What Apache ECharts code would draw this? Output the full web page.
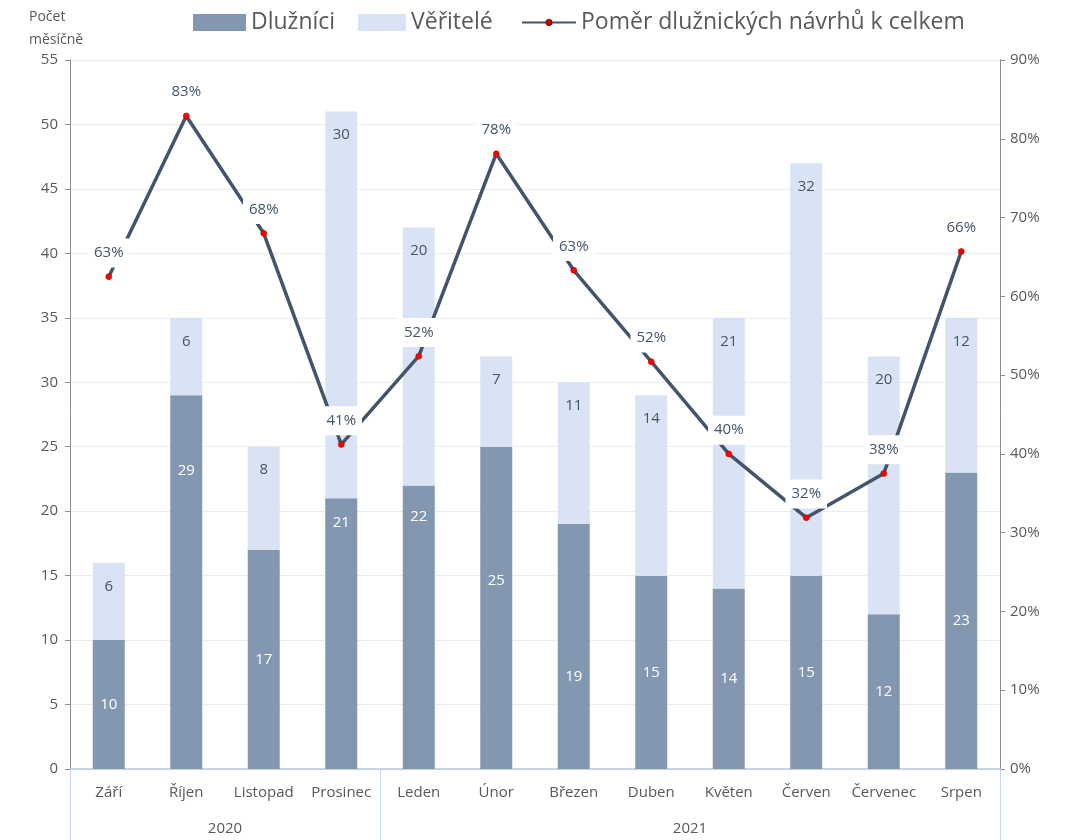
<!DOCTYPE html>
<html>
<head>
<meta charset="utf-8">
<script src="https://cdn.jsdelivr.net/npm/echarts@6/dist/echarts.min.js"></script>
<style>
  html, body { margin: 0; padding: 0; background: #fff; }
  #chart { width: 1066px; height: 840px; }
</style>
</head>
<body>
<div id="chart"></div>
<script>
let months = ['Září', 'Říjen', 'Listopad', 'Prosinec', 'Leden', 'Únor', 'Březen', 'Duben', 'Květen', 'Červen', 'Červenec', 'Srpen'];
let years = ['2020', '2021'];
let yearSpans = [4, 8];
let dluznici = [10, 29, 17, 21, 22, 25, 19, 15, 14, 15, 12, 23];
let veritele = [6, 6, 8, 30, 20, 7, 11, 14, 21, 32, 20, 12];
let pomer = [62.5, 82.9, 68, 41.2, 52.4, 78.1, 63.3, 51.7, 40, 31.9, 37.5, 65.7];

let textGrey = '#595959';
let font = 'Open Sans';

// ručně posunuté popisky dlužníků (px, záporně = nahoru)
let dluzniciLabelShift = { 1: -111, 3: -111, 4: -110, 5: -27, 6: 30 };

// hranice a středy let pro druhou řadu popisků
let yearEdges = [0];
let yearMids = [];
yearSpans.forEach(function (s, i) {
  yearMids.push(yearEdges[i] + s / 2);
  yearEdges.push(yearEdges[i] + s);
});

let legendText = { fontSize: 23, color: textGrey, fontFamily: font };

let myChart = echarts.init(document.getElementById('chart'));
myChart.setOption({
  animation: false,
  textStyle: { fontFamily: font },
  legend: [{
    top: 6, left: 188, itemWidth: 53, itemHeight: 17, icon: 'rect',
    textStyle: legendText, data: ['Dlužníci']
  }, {
    top: 6, left: 353, itemWidth: 48, itemHeight: 17, icon: 'rect',
    textStyle: legendText, data: ['Věřitelé']
  }, {
    top: 6, left: 516, itemWidth: 54, itemHeight: 6, itemGap: 4,
    textStyle: legendText, data: ['Poměr dlužnických návrhů k celkem']
  }],
  title: {
    text: 'Počet\nměsíčně',
    left: 24,
    top: 1,
    textStyle: { fontSize: 14, color: textGrey, fontWeight: 'normal', lineHeight: 23, fontFamily: font }
  },
  grid: { left: 70, right: 66, top: 60, bottom: 71 },
  xAxis: [{
    type: 'category',
    data: months,
    axisLine: { lineStyle: { color: '#b4c7e7', width: 1.5 } },
    axisTick: { length: 37, interval: 0, lineStyle: { color: '#c9d7ee' } },
    axisLabel: { fontSize: 15, color: textGrey, margin: 16, interval: 0 }
  }, {
    type: 'value',
    position: 'bottom',
    min: 0,
    max: months.length,
    axisLine: { show: false },
    splitLine: { show: false },
    axisTick: { show: true, length: 72, customValues: yearEdges, lineStyle: { color: '#c9d7ee' } },
    axisLabel: {
      fontSize: 15, color: textGrey, margin: 52,
      customValues: yearMids,
      formatter: function (v) {
        let i = yearMids.indexOf(v);
        return i >= 0 ? years[i] : '';
      }
    }
  }],
  yAxis: [{
    type: 'value',
    min: 0,
    max: 55,
    interval: 5,
    axisLine: { show: true, lineStyle: { color: '#8c8c8c' } },
    axisTick: { show: true, length: 5, lineStyle: { color: '#8c8c8c' } },
    axisLabel: { fontSize: 15, color: textGrey, margin: 12 },
    splitLine: { lineStyle: { color: '#ececec' } }
  }, {
    type: 'value',
    min: 0,
    max: 90,
    interval: 10,
    axisLine: { show: true, lineStyle: { color: '#8c8c8c' } },
    axisTick: { show: true, length: 5, lineStyle: { color: '#8c8c8c' } },
    axisLabel: { fontSize: 15, color: textGrey, margin: 10, formatter: '{value}%' },
    splitLine: { show: false }
  }],
  series: [{
    name: 'Dlužníci',
    type: 'bar',
    stack: 'celkem',
    barWidth: 32,
    data: dluznici.map(function (v, i) {
      let shift = dluzniciLabelShift[i];
      return shift ? { value: v, label: { offset: [0, shift] } } : v;
    }),
    itemStyle: { color: '#8497b0' },
    label: { show: true, position: 'inside', color: '#fff', fontSize: 15 }
  }, {
    name: 'Věřitelé',
    type: 'bar',
    stack: 'celkem',
    barWidth: 32,
    data: veritele,
    itemStyle: { color: '#dae3f3' },
    label: { show: true, position: 'insideTop', distance: 16, color: '#44546a', fontSize: 15 }
  }, {
    name: 'Poměr dlužnických návrhů k celkem',
    type: 'line',
    yAxisIndex: 1,
    data: pomer,
    z: 5,
    symbol: 'circle',
    symbolSize: 6,
    itemStyle: { color: '#ff0000', borderColor: '#a00000', borderWidth: 0.5 },
    lineStyle: { color: '#44546a', width: 3.5 },
    label: {
      show: true,
      position: 'top',
      distance: 6,
      color: '#44546a',
      fontSize: 15,
      backgroundColor: '#fff',
      padding: [7, 6],
      formatter: function (p) { return Math.round(p.value) + '%'; }
    }
  }]
});
</script>
</body>
</html>
